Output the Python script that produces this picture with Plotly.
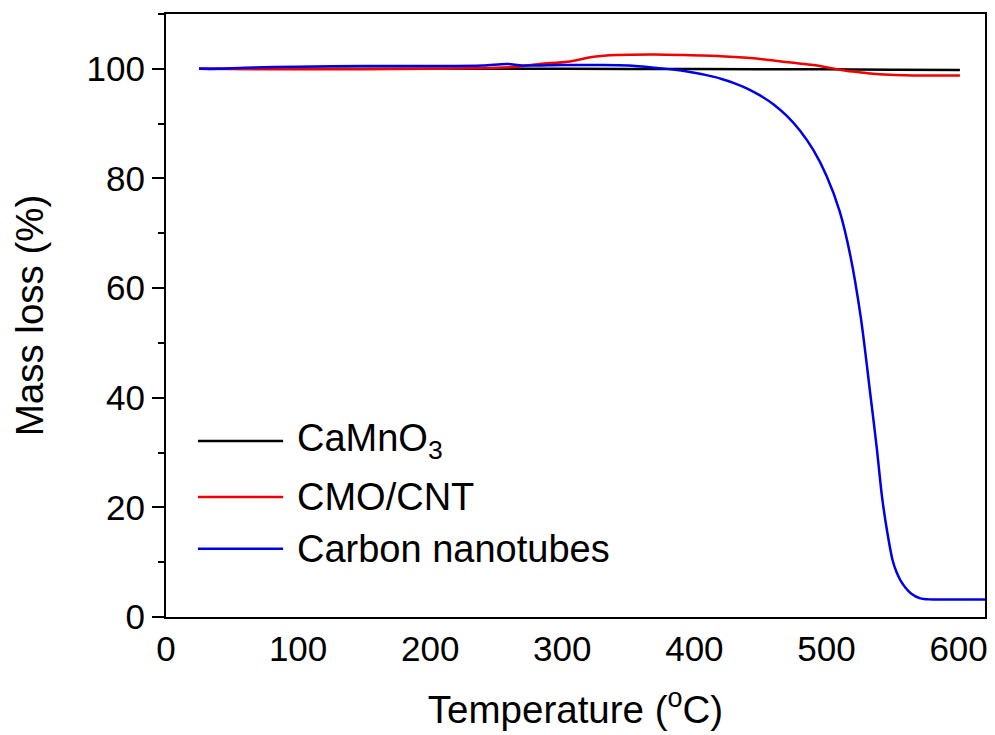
import plotly.graph_objects as go

# ---------------- data ----------------
T_cmo = [25, 100, 200, 300, 400, 500, 550, 601]
M_cmo = [100.0, 100.0, 100.0, 100.0, 99.95, 99.9, 99.85, 99.8]

T_comp = [25, 100, 200, 250, 266, 283, 304, 324, 341, 370, 392, 420, 440, 460,
          475, 490, 500, 511, 520, 531, 548, 565, 580, 601]
M_comp = [100.0, 99.9, 100.0, 100.2, 100.4, 100.9, 101.3, 102.2, 102.5, 102.6,
          102.5, 102.3, 102.0, 101.5, 101.1, 100.7, 100.3, 99.8, 99.5, 99.2,
          98.9, 98.8, 98.8, 98.8]

T_cnt = [25, 40, 60, 100, 150, 200, 240, 258, 270, 300, 329, 350, 370, 390, 400,
         410, 420, 430, 440, 450, 460, 470, 480, 490, 500, 510, 518, 526, 533,
         538, 542, 546, 550, 553, 556, 560, 564, 571, 580, 600, 620]
M_cnt = [100.0, 100.0, 100.2, 100.4, 100.5, 100.5, 100.6, 100.9, 100.6, 100.7,
         100.7, 100.6, 100.2, 99.7, 99.3, 98.8, 98.2, 97.4, 96.4, 95.1, 93.5,
         91.4, 88.7, 85.2, 80.5, 74.0, 66.0, 54.6, 41.0, 31.0, 22.0, 15.5, 10.4,
         8.2, 6.7, 5.3, 4.3, 3.4, 3.2, 3.2, 3.2]

names = ["CaMnO<sub>3</sub>", "CMO/CNT", "Carbon nanotubes"]
colors = ["#000000", "#F00000", "#0000E6"]

x_ticks = [0, 100, 200, 300, 400, 500, 600]
y_ticks = [0, 20, 40, 60, 80, 100]

FONT = "Liberation Sans, Arial, sans-serif"

fig = go.Figure()
for T, M, c in [(T_cmo, M_cmo, colors[0]), (T_comp, M_comp, colors[1]),
                (T_cnt, M_cnt, colors[2])]:
    fig.add_trace(go.Scatter(x=T, y=M, mode="lines",
                             line=dict(color=c, width=2.5, shape="spline", smoothing=0.8),
                             showlegend=False))

# manual legend (long line samples like the reference)
leg_y = [0.292, 0.199, 0.113]
for name, c, yy in zip(names, colors, leg_y):
    fig.add_shape(type="line", xref="paper", yref="paper",
                  x0=0.039, x1=0.143, y0=yy, y1=yy,
                  line=dict(color=c, width=2.5))
    fig.add_annotation(xref="paper", yref="paper", x=0.1575, y=yy,
                       text=name, showarrow=False, xanchor="left", yanchor="middle",
                       font=dict(family=FONT, size=38, color="black"))

fig.update_layout(
    width=995, height=735,
    margin=dict(l=166, r=10, t=14, b=118),
    paper_bgcolor="white", plot_bgcolor="white",
    font=dict(family=FONT, color="black"),
)
fig.update_xaxes(
    range=[0, 620], tickvals=x_ticks, ticks="", showgrid=False, zeroline=False,
    showline=True, linecolor="black", linewidth=2, mirror=True, automargin=False,
    tickfont=dict(family=FONT, size=35, color="black"), ticklabelstandoff=0,
    title=dict(text="Temperature (<sup>o</sup>C)", font=dict(family=FONT, size=38.5),
               standoff=29),
)
fig.update_yaxes(
    range=[0, 110], tickvals=y_ticks, ticks="outside", ticklen=12, tickwidth=2,
    tickcolor="black", showgrid=False, zeroline=False, automargin=False,
    showline=True, linecolor="black", linewidth=2, mirror=True,
    minor=dict(tickvals=[10, 30, 50, 70, 90, 110], ticks="outside", ticklen=6,
               tickwidth=2, tickcolor="black"),
    tickfont=dict(family=FONT, size=35, color="black"), ticklabelstandoff=0,
    title=dict(text="Mass loss (%)", font=dict(family=FONT, size=38.5), standoff=31),
)

fig.write_html("out.html")
